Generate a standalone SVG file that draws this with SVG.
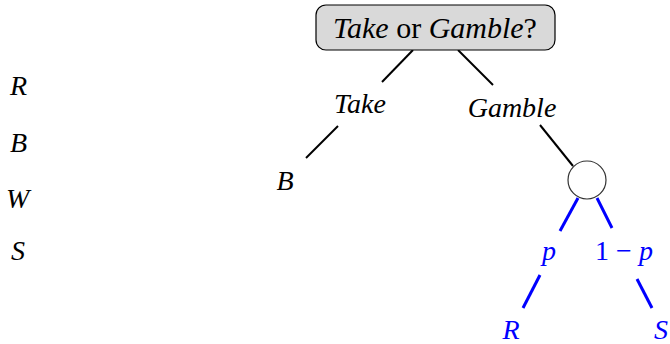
<svg xmlns="http://www.w3.org/2000/svg" width="670" height="344" viewBox="0 0 670 344">
  <style>
    .it { font-style: italic; }
    .blue { fill: #0000ff; }
    .edge { stroke: #000; stroke-width: 2; fill: none; }
    .prob { stroke: #0000ff; stroke-width: 3; fill: none; }
  </style>

  <g font-family="Liberation Serif, serif" font-size="28">
  <!-- outcome legend on the left -->
  <g id="legend">
    <text class="it" x="10" y="95">R</text>
    <text class="it" x="10" y="152">B</text>
    <text class="it" x="6" y="208">W</text>
    <text class="it" x="11" y="260">S</text>
  </g>

  <!-- connectors -->
  <g id="connectors">
    <line class="edge" x1="413" y1="50" x2="382" y2="82"/>
    <line class="edge" x1="458" y1="50" x2="493" y2="85"/>
    <line class="edge" x1="338" y1="126" x2="306" y2="158"/>
    <line class="edge" x1="540" y1="125" x2="573" y2="166"/>
    <line class="prob" x1="578" y1="198" x2="560" y2="231"/>
    <line class="prob" x1="597" y1="198" x2="612" y2="228"/>
    <line class="prob" x1="540" y1="275" x2="523" y2="308"/>
    <line class="prob" x1="637" y1="279" x2="652" y2="308"/>
  </g>

  <!-- decision node -->
  <g id="root">
    <rect x="316" y="5" width="239" height="45" rx="10" ry="10" fill="#d9d9d9" stroke="#000" stroke-width="1.2"/>
    <text x="435" y="38" font-size="30" text-anchor="middle"><tspan class="it">Take</tspan> or <tspan class="it">Gamble</tspan>?</text>
  </g>

  <g id="take">
    <text class="it" x="360" y="113" text-anchor="middle">Take</text>
  </g>

  <g id="gamble">
    <text class="it" x="512" y="117" text-anchor="middle">Gamble</text>
  </g>

  <g id="take-outcome">
    <text class="it" x="285" y="190" text-anchor="middle">B</text>
  </g>

  <!-- chance node -->
  <g id="chance">
    <circle cx="587" cy="180" r="19" fill="#fff" stroke="#333" stroke-width="1.2"/>
  </g>

  <g id="prob-p">
    <text class="it blue" x="549" y="260" text-anchor="middle">p</text>
  </g>

  <g id="prob-1-p">
    <text class="blue" x="624" y="260" text-anchor="middle">1 − <tspan class="it">p</tspan></text>
  </g>

  <g id="outcome-r">
    <text class="it blue" x="511" y="339" text-anchor="middle">R</text>
  </g>

  <g id="outcome-s">
    <text class="it blue" x="661" y="339" text-anchor="middle">S</text>
  </g>
  </g>
</svg>
